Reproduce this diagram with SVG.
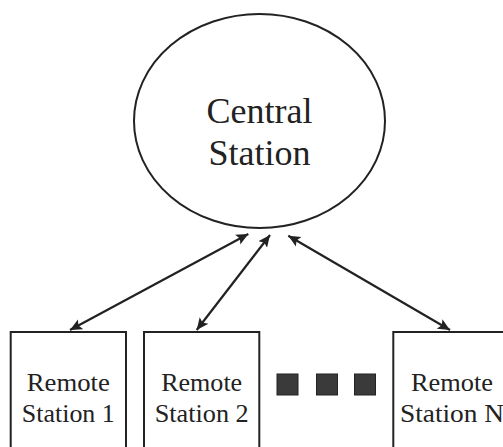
<svg xmlns="http://www.w3.org/2000/svg" width="503" height="447" viewBox="0 0 503 447">
<style>
.shape{fill:#fff;stroke:#222;stroke-width:2}
.lbl{font-family:'Liberation Serif','DejaVu Serif','Times New Roman',serif;fill:#222;text-anchor:middle}
.big{font-size:36px}
.small{font-size:25px}
.conn{stroke:#222;stroke-width:2.2;fill:none;marker-start:url(#ah);marker-end:url(#ah)}
.dot{fill:#3a3a3a;stroke:#222;stroke-width:1}
</style>
<defs>
<marker id="ah" markerUnits="userSpaceOnUse" markerWidth="14" markerHeight="12" refX="12" refY="6" orient="auto-start-reverse">
<path d="M0,0.5 L12,6 L0,11.5 L2.5,6 z" fill="#222"/>
</marker>
</defs>
<rect width="503" height="447" fill="#fff"/>
<g id="central">
<ellipse class="shape" cx="259.5" cy="121" rx="125.5" ry="107"/>
<text class="lbl big" x="259.5" y="122.5" font-family="Liberation Serif, serif">Central</text>
<text class="lbl big" x="259.5" y="165" font-family="Liberation Serif, serif">Station</text>
</g>
<g id="remote1">
<rect class="shape" x="10.7" y="332" width="115.3" height="130"/>
<text class="lbl small" x="68.3" y="390.5" textLength="83" lengthAdjust="spacingAndGlyphs">Remote</text>
<text class="lbl small" x="68.3" y="421.5" textLength="93" lengthAdjust="spacingAndGlyphs">Station 1</text>
</g>
<g id="remote2">
<rect class="shape" x="144" y="332" width="115.3" height="130"/>
<text class="lbl small" x="201.7" y="390.5" textLength="81" lengthAdjust="spacingAndGlyphs">Remote</text>
<text class="lbl small" x="201.7" y="421.5" textLength="94" lengthAdjust="spacingAndGlyphs">Station 2</text>
</g>
<g id="ellipsis">
<rect class="dot" x="277" y="374" width="21" height="21"/>
<rect class="dot" x="316.5" y="374" width="21" height="21"/>
<rect class="dot" x="354.5" y="374" width="21" height="21"/>
</g>
<g id="remoteN">
<rect class="shape" x="393.3" y="332" width="115.3" height="130"/>
<text class="lbl small" x="452" y="390.5" textLength="82" lengthAdjust="spacingAndGlyphs">Remote</text>
<text class="lbl small" x="452" y="421.5" textLength="104" lengthAdjust="spacingAndGlyphs">Station N</text>
</g>
<g id="connectors">
<line class="conn" x1="70" y1="330" x2="248.3" y2="234"/>
<line class="conn" x1="196.7" y1="330" x2="270" y2="235"/>
<line class="conn" x1="450" y1="330" x2="288.3" y2="235.7"/>
</g>
</svg>
